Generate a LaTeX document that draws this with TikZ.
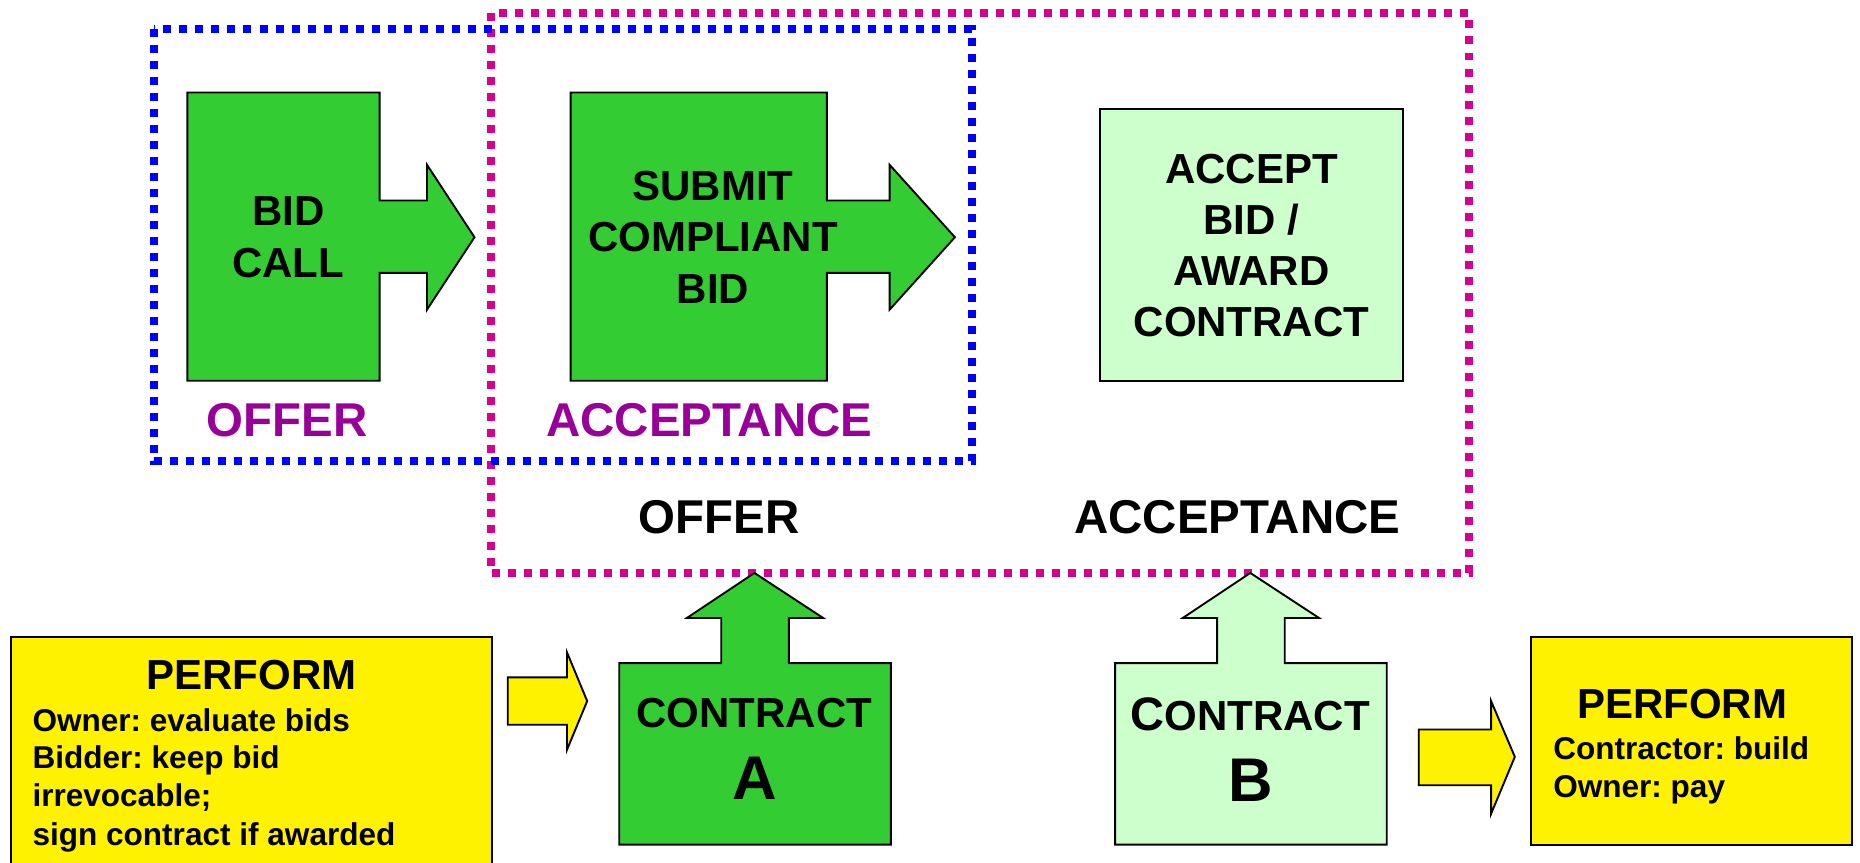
\documentclass[tikz,border=0pt]{standalone}
\usepackage{fontspec}
\setmainfont{Liberation Sans}
\usepackage{xcolor}
\frenchspacing

\definecolor{boxgreen}{RGB}{51,204,51}
\definecolor{palegreen}{RGB}{204,255,204}
\definecolor{offerpurple}{RGB}{153,0,153}
\definecolor{framepink}{RGB}{214,0,147}

\tikzset{
  frame/.style={line width=3.37pt,dash pattern=on 3.37pt off 3.38pt},
  darkbox/.style={fill=boxgreen,draw=black,line width=0.8pt},
  lightbox/.style={fill=palegreen,draw=black,line width=0.8pt},
  yellowbox/.style={fill=yellow,draw=black,line width=0.8pt},
  boxtext/.style={font=\fontsize{17.7}{21.6}\selectfont\bfseries,align=center},
  tagtext/.style={font=\fontsize{20}{24}\selectfont\bfseries,anchor=base},
  smalltext/.style={font=\fontsize{13.3}{16}\selectfont\bfseries,anchor=base west}
}

\begin{document}
\begin{tikzpicture}[x=0.5pt,y=-0.5pt,inner sep=0pt]
\useasboundingbox (0,0) rectangle (1568,727);
% dotted frames
\draw[frame,framepink] (414,11) rectangle (1238,483);
\draw[frame,blue] (130,24.5) rectangle (819,389);
% top row
\filldraw[darkbox] (158,78) -- (320,78) -- (320,169) -- (360,169) -- (360,139) -- (400,200)
  -- (360,261) -- (360,230) -- (320,230) -- (320,321) -- (158,321) -- cycle;
\filldraw[darkbox] (481,78) -- (697,78) -- (697,169) -- (750,169) -- (750,139) -- (805,200)
  -- (750,261) -- (750,230) -- (697,230) -- (697,321) -- (481,321) -- cycle;
\filldraw[lightbox] (927,92) rectangle (1183,321);
\node[boxtext] (bidcall) at (243,200) {BID\\CALL};
\node[boxtext] (submit) at (601,200) {SUBMIT\\COMPLIANT\\BID};
\node[boxtext] (award) at (1055,207) {ACCEPT\\BID /\\AWARD\\CONTRACT};
\node[tagtext,offerpurple] (offer1) at (242,368) {OFFER};
\node[tagtext,offerpurple] (accept1) at (598,368) {ACCEPTANCE};
\node[tagtext] (offer2) at (606,449.5) {OFFER};
\node[tagtext] (accept2) at (1043,449.5) {ACCEPTANCE};
% bottom row
\filldraw[yellowbox] (9,537) rectangle (415,740);
\node[font=\fontsize{17.7}{21.6}\selectfont\bfseries,anchor=base] (perf1) at (212,581) {PERFORM};
\node[smalltext] (own1) at (27,617) {Owner: evaluate bids};
\node[smalltext] (bid1) at (27,648) {Bidder: keep bid};
\node[smalltext] (bid2) at (27,680) {irrevocable;};
\node[smalltext] (bid3) at (27,712.5) {sign contract if awarded};
\filldraw[yellowbox] (428,571) -- (478,571) -- (478,550) -- (495,591) -- (478,632)
  -- (478,611) -- (428,611) -- cycle;
\filldraw[darkbox] (522,559) -- (608,559) -- (608,521) -- (579,521) -- (636,483) -- (694,521)
  -- (665,521) -- (665,559) -- (751,559) -- (751,712) -- (522,712) -- cycle;
\node[font=\fontsize{17.7}{21.6}\selectfont\bfseries,anchor=base] (contra) at (636,613.5) {CONTRACT};
\node[font=\fontsize{26}{30}\selectfont\bfseries,anchor=base] (lettera) at (636,674) {A};
\filldraw[lightbox] (940,559) -- (1026,559) -- (1026,521) -- (997,521) -- (1054,483) -- (1112,521)
  -- (1083,521) -- (1083,559) -- (1169,559) -- (1169,712) -- (940,712) -- cycle;
\node[font=\fontsize{17.7}{21.6}\selectfont\bfseries,anchor=base] (contrb) at (1054,615.5)
  {{\fontsize{19.8}{22}\selectfont C}ONTRACT};
\node[font=\fontsize{26}{30}\selectfont\bfseries,anchor=base] (letterb) at (1054,676) {B};
\filldraw[yellowbox] (1196,615) -- (1257,615) -- (1257,591) -- (1277,638) -- (1257,686)
  -- (1257,662) -- (1196,662) -- cycle;
\filldraw[yellowbox] (1291,537) rectangle (1561,712);
\node[font=\fontsize{17.7}{21.6}\selectfont\bfseries,anchor=base] (perf2) at (1418,606) {PERFORM};
\node[smalltext] (build) at (1309,640) {Contractor: build};
\node[smalltext] (pay) at (1309,672) {Owner: pay};
\end{tikzpicture}
\end{document}
